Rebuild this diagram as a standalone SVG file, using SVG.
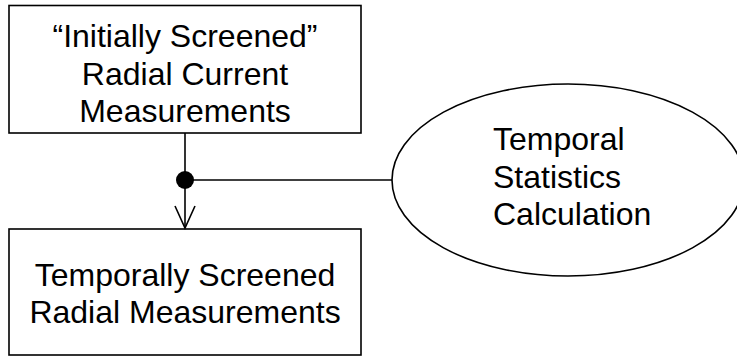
<svg xmlns="http://www.w3.org/2000/svg" width="737" height="356" viewBox="0 0 737 356">
  <style>
    .box { fill: #ffffff; stroke: #000000; stroke-width: 1.6; }
    .oval { fill: #ffffff; stroke: #000000; stroke-width: 1.6; }
    .label { font-family: "Liberation Sans", Arial, sans-serif; font-size: 32px; fill: #000000; }
    .mid { text-anchor: middle; }
    .wire { fill: none; stroke: #000000; stroke-width: 1.6; }
  </style>
  <defs>
    <marker id="openArrow" markerUnits="userSpaceOnUse" markerWidth="24" markerHeight="26" refX="11" refY="23" orient="0" viewBox="0 0 22 26">
      <path d="M1 1 L11 23 L21 1" fill="none" stroke="#000000" stroke-width="1.6"/>
    </marker>
  </defs>

  <rect width="737" height="356" fill="#ffffff"/>

  <g id="initially-screened">
    <rect class="box" x="9" y="5.5" width="352" height="127.5"/>
    <text class="label mid" x="185" y="46.7">“Initially Screened”</text>
    <text class="label mid" x="185" y="84.5">Radial Current</text>
    <text class="label mid" x="185" y="122">Measurements</text>
  </g>

  <g id="temporally-screened">
    <rect class="box" x="9" y="229" width="352" height="126"/>
    <text class="label mid" x="185" y="286">Temporally Screened</text>
    <text class="label mid" x="185" y="323.3">Radial Measurements</text>
  </g>

  <g id="temporal-statistics">
    <ellipse class="oval" cx="568" cy="180" rx="176" ry="96"/>
    <text class="label" x="493" y="150">Temporal</text>
    <text class="label" x="493" y="188">Statistics</text>
    <text class="label" x="493" y="225">Calculation</text>
  </g>

  <g id="connectors">
    <line class="wire" x1="185" y1="133" x2="185" y2="228" marker-end="url(#openArrow)"/>
    <line class="wire" x1="185" y1="180" x2="392" y2="180"/>
    <circle cx="185" cy="180" r="9" fill="#000000"/>
  </g>
</svg>
